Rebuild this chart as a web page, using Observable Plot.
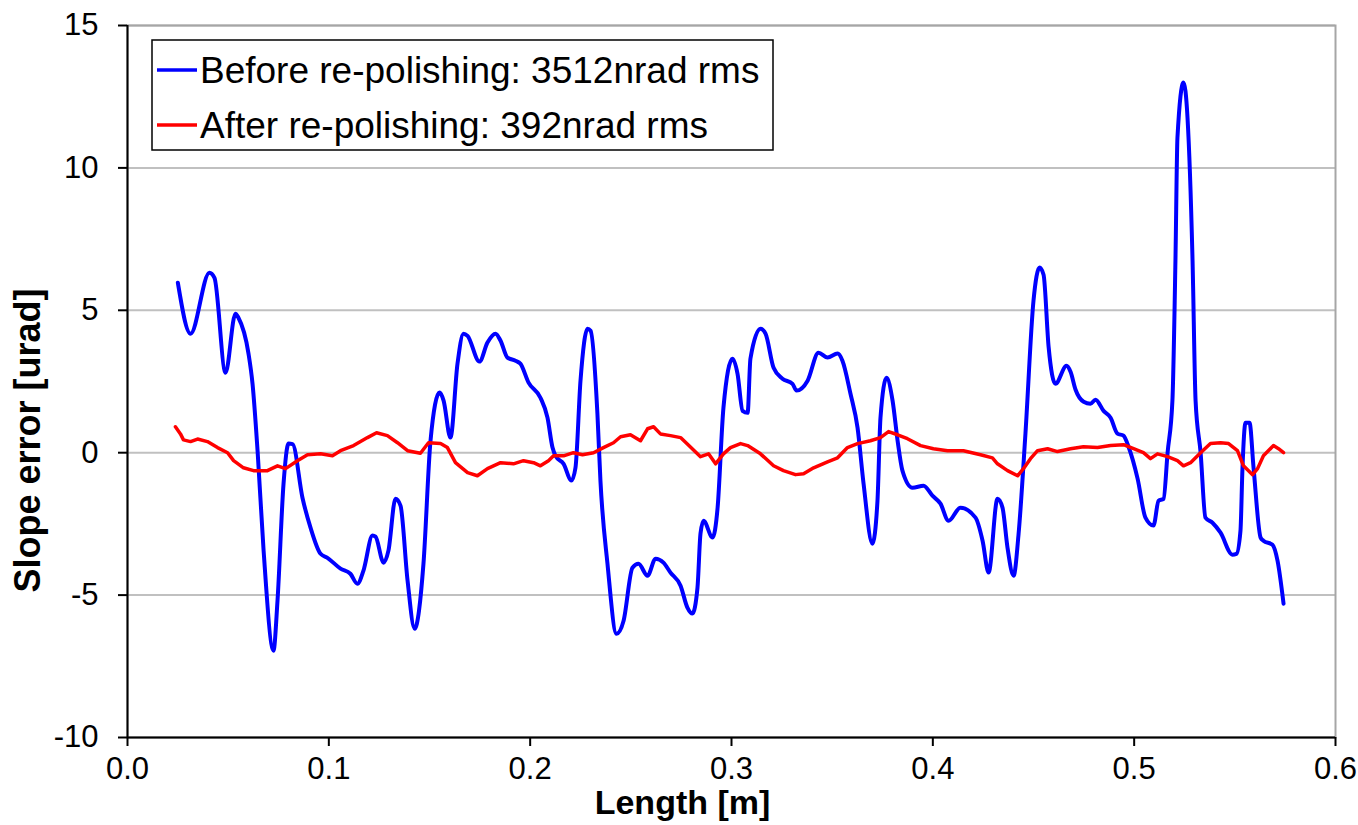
<!DOCTYPE html>
<html><head><meta charset="utf-8">
<script src="https://cdn.jsdelivr.net/npm/d3@7"></script>
<script src="https://cdn.jsdelivr.net/npm/@observablehq/plot@0.6"></script>
<style>body{margin:0;background:#fff}</style>
</head><body><div id="chart"></div>
<script>
const seriesNames = ["Before re-polishing: 3512nrad rms", "After re-polishing: 392nrad rms"];
const seriesColors = ["#0000ff", "#ff0000"];
const xTicks = [0, 0.1, 0.2, 0.3, 0.4, 0.5, 0.6];
const yTicks = [-10, -5, 0, 5, 10, 15];
const xTitle = "Length [m]";
const yTitle = "Slope error [urad]";

const beforeX = [0.025,0.0313,0.0407,0.0432,0.0487,0.0536,0.0551,0.0601,0.0621,0.0646,
0.0676,0.0725,0.0745,0.0775,0.0800,0.0820,0.0869,0.0909,0.0959,0.0993,
0.1058,0.1107,0.1142,0.1172,0.1217,0.1232,0.1272,0.1296,0.1331,0.1356,
0.1391,0.1426,0.1470,0.1505,0.1550,0.1570,0.1604,0.1639,0.1669,0.1689,
0.1748,0.1788,0.1828,0.1853,0.1887,0.1927,0.1952,0.1992,0.2051,0.2086,
0.2111,0.2126,0.2166,0.2205,0.2225,0.2250,0.2285,0.2300,0.2334,0.2349,
0.2384,0.2429,0.2464,0.2508,0.2538,0.2583,0.2623,0.2662,0.2697,0.2747,
0.2781,0.2806,0.2831,0.2846,0.2861,0.2906,0.2931,0.2960,0.3005,0.3030,
0.3055,0.3080,0.3094,0.3144,0.3169,0.3209,0.3253,0.3303,0.3323,0.3378,
0.3432,0.3477,0.3527,0.3551,0.3591,0.3626,0.3656,0.3700,0.3725,0.3740,
0.3770,0.3800,0.3825,0.3849,0.3899,0.3954,0.3998,0.4038,0.4078,0.4137,
0.4212,0.4247,0.4277,0.4321,0.4346,0.4371,0.4401,0.4426,0.4460,0.4500,
0.4530,0.4550,0.4575,0.4609,0.4664,0.4684,0.4709,0.4749,0.4783,0.4808,
0.4848,0.4883,0.4917,0.4947,0.4972,0.5017,0.5056,0.5096,0.5121,0.5146,
0.5166,0.5190,0.5205,0.5215,0.5245,0.5265,0.5290,0.5305,0.5330,0.5354,
0.5389,0.5429,0.5488,0.5508,0.5528,0.5538,0.5553,0.5573,0.5593,0.5628,
0.5642,0.5687,0.5712,0.5742];
const beforeY = [5.97,4.18,6.32,6.14,2.81,4.88,4.74,3.48,2.42,0.07,
-3.44,-6.95,-5.2,-1.09,0.32,0.30,-1.58,-2.63,-3.55,-3.69,
-4.07,-4.25,-4.6,-4.14,-2.91,-2.95,-3.86,-3.44,-1.62,-1.86,
-4.49,-6.18,-3.9,0.42,2.11,1.83,0.53,3.12,4.18,4.1,
3.2,3.87,4.18,3.93,3.34,3.23,3.12,2.46,1.93,1.23,
0.18,-0.11,-0.39,-0.98,-0.53,2.53,4.35,4.28,1.37,-0.98,
-3.9,-6.36,-5.9,-4.04,-3.9,-4.32,-3.72,-3.86,-4.21,-4.67,
-5.44,-5.65,-4.74,-2.84,-2.39,-2.98,-1.93,1.58,3.3,2.77,
1.47,1.40,3.3,4.35,4.18,2.98,2.6,2.42,2.18,2.53,
3.51,3.34,3.48,3.23,2.07,0.88,-1.09,-3.2,-1.69,1.23,
2.63,1.83,0.42,-0.63,-1.23,-1.16,-1.51,-1.79,-2.39,-1.93,
-2.28,-3.09,-4.21,-1.62,-1.93,-3.34,-4.32,-2.84,0.67,5.34,
6.5,6.25,3.72,2.42,3.05,2.84,2.21,1.79,1.72,1.86,
1.47,1.23,0.67,0.60,0.21,-0.91,-2.28,-2.56,-1.69,-1.62,
0,1.83,6.74,11.06,13.0,11.76,6.74,1.83,0,-2.28,
-2.46,-2.81,-3.58,-3.55,-2.74,-0.53,1.05,1.05,-0.53,-2.98,
-3.09,-3.23,-3.79,-5.3];

const afterX = [0.0238,0.0263,0.0278,0.0313,0.0348,0.0397,0.0447,0.0497,0.0527,0.0576,
0.0626,0.0695,0.0745,0.0785,0.0844,0.0894,0.0959,0.1018,0.1058,0.1123,
0.1192,0.1237,0.1291,0.1341,0.1391,0.1455,0.1495,0.1555,0.1589,0.1629,
0.1689,0.1738,0.1788,0.1853,0.1917,0.1967,0.2017,0.2051,0.2091,0.2116,
0.2166,0.2215,0.2260,0.2315,0.2364,0.2414,0.2449,0.2498,0.2548,0.2583,
0.2613,0.2647,0.2697,0.2747,0.2796,0.2846,0.2886,0.2921,0.2960,0.2995,
0.3045,0.3080,0.3144,0.3209,0.3258,0.3318,0.3358,0.3408,0.3477,0.3527,
0.3576,0.3626,0.3690,0.3740,0.3780,0.3825,0.3874,0.3939,0.4003,0.4073,
0.4152,0.4237,0.4296,0.4321,0.4371,0.4421,0.4450,0.4485,0.4520,0.4570,
0.4619,0.4684,0.4748,0.4818,0.4883,0.4947,0.4997,0.5046,0.5081,0.5116,
0.5166,0.5215,0.5245,0.5280,0.5330,0.5379,0.5429,0.5469,0.5513,0.5543,
0.5588,0.5613,0.5642,0.5692,0.5717,0.5742];
const afterY = [0.91,0.66,0.45,0.39,0.48,0.39,0.18,0,-0.28,-0.53,
-0.63,-0.63,-0.46,-0.56,-0.28,-0.07,-0.04,-0.11,0.07,0.25,
0.53,0.7,0.60,0.35,0.07,-0.02,0.35,0.32,0.18,-0.35,
-0.70,-0.81,-0.56,-0.35,-0.39,-0.28,-0.35,-0.46,-0.28,-0.11,
-0.11,0,-0.07,0,0.18,0.35,0.56,0.63,0.42,0.84,
0.91,0.66,0.60,0.53,0.2,-0.14,-0.04,-0.39,-0.04,0.18,
0.32,0.25,-0.04,-0.46,-0.63,-0.77,-0.74,-0.53,-0.32,-0.18,
0.18,0.32,0.42,0.53,0.74,0.63,0.49,0.25,0.14,0.07,
0.07,-0.07,-0.18,-0.39,-0.63,-0.81,-0.56,-0.21,0.07,0.14,
0.04,0.14,0.21,0.18,0.25,0.28,0.14,0,-0.21,-0.04,
-0.14,-0.28,-0.46,-0.35,0,0.32,0.35,0.32,0.07,-0.46,
-0.77,-0.56,-0.11,0.25,0.14,0];

const before = beforeX.map((x, i) => ({x, y: beforeY[i]}));
const after = afterX.map((x, i) => ({x, y: afterY[i]}));

const font = "'Liberation Sans', Arial, sans-serif";

const chart = Plot.plot({
  width: 1358,
  height: 825,
  marginLeft: 127,
  marginRight: 23,
  marginTop: 25,
  marginBottom: 88,
  style: {fontFamily: font, fontSize: "31px", color: "#000", background: "#fff"},
  x: {domain: [0, 0.6]},
  y: {domain: [-10, 15]},
  marks: [
    Plot.gridY(yTicks, {stroke: "#c0c0c0", strokeOpacity: 1, strokeWidth: 2}),
    Plot.frame({stroke: "#a6a6a6", strokeWidth: 2}),
    Plot.ruleX([xTicks[0]], {stroke: "#000", strokeWidth: 2}),
    Plot.ruleY([yTicks[0]], {stroke: "#000", strokeWidth: 2}),
    Plot.axisY(yTicks, {tickSize: 9, tickPadding: 20, fontSize: 31, label: null, strokeWidth: 2, tickFormat: d => String(d)}),
    Plot.axisX(xTicks, {tickSize: 9, tickPadding: 10, fontSize: 31, label: null, strokeWidth: 2, tickFormat: d => d.toFixed(1)}),
    Plot.line(before, {x: "x", y: "y", stroke: seriesColors[0], strokeWidth: 4, strokeLinejoin: "round", curve: "monotone-x"}),
    Plot.line(after, {x: "x", y: "y", stroke: seriesColors[1], strokeWidth: 3.5, strokeLinejoin: "round"}),
    Plot.text([xTitle], {frameAnchor: "bottom", dy: 66, dx: -49, textAnchor: "middle", lineAnchor: "middle", fontWeight: "bold", fontSize: 34}),
    Plot.text([yTitle], {frameAnchor: "left", dx: -99, dy: 59, rotate: -90, textAnchor: "middle", lineAnchor: "middle", fontWeight: "bold", fontSize: 36})
  ]
});
document.getElementById("chart").appendChild(chart);

// legend box
const svg = d3.select(chart);
const lg = svg.append("g").attr("font-family", font).attr("text-anchor", "start");
lg.append("rect").attr("x", 152).attr("y", 40).attr("width", 621).attr("height", 110)
  .attr("fill", "#fff").attr("stroke", "#000").attr("stroke-width", 1.5);
seriesNames.forEach((name, i) => {
  const cy = 70 + i * 55;
  lg.append("line").attr("x1", 157).attr("x2", 197).attr("y1", cy).attr("y2", cy)
    .attr("stroke", seriesColors[i]).attr("stroke-width", 3.5);
  lg.append("text").attr("x", 200).attr("y", cy).attr("dy", "0.36em")
    .attr("text-anchor", "start").attr("font-size", 37).attr("fill", "#000").text(name);
});
</script>
</body></html>
